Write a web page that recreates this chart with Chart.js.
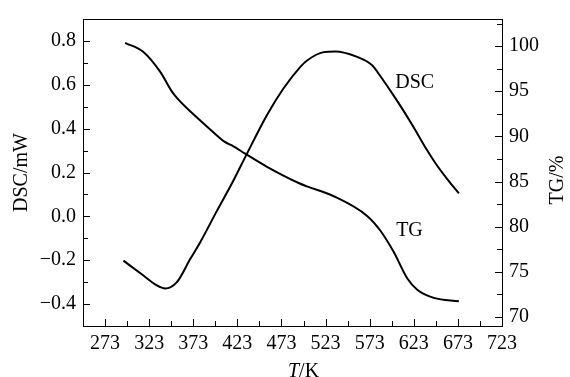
<!DOCTYPE html>
<html><head><meta charset="utf-8">
<script src="https://cdn.jsdelivr.net/npm/chart.js@4.4.1/dist/chart.umd.min.js"></script>
<style>html,body{margin:0;padding:0;background:#fff}#wrap{width:570px;height:377px}</style>
</head><body><div id="wrap"><canvas id="c" width="570" height="377"></canvas></div>
<script>
// ---- data ----
const dscT    = [293.8, 316.5, 331.7, 341.1, 354.4, 369.5, 380.9, 399.8, 418.7, 431.9, 456.6, 475.4, 494.4, 502.0, 520.8, 534.1, 558.8, 575.8, 585.0, 596.6, 610.0, 623.0, 636.0, 648.0, 660.9, 674.1];
const dscVals = [-0.202, -0.270, -0.315, -0.329, -0.300, -0.195, -0.118, 0.025, 0.165, 0.270, 0.462, 0.584, 0.682, 0.711, 0.749, 0.752, 0.727, 0.689, 0.640, 0.572, 0.490, 0.405, 0.315, 0.240, 0.170, 0.105];
const tgT     = [295.7, 316.5, 335.4, 348.7, 354.4, 373.2, 392.2, 409.2, 416.8, 431.9, 456.6, 494.4, 502.0, 532.2, 570.1, 585.2, 600.3, 615.5, 626.9, 645.7, 674.1];
const tgVals  = [100.36, 99.35, 97.17, 94.99, 94.26, 92.44, 90.77, 89.36, 89.0, 88.08, 86.63, 84.75, 84.46, 83.37, 81.19, 79.55, 77.19, 74.29, 73.02, 72.11, 71.74];
const xTickLabels   = [273, 323, 373, 423, 473, 523, 573, 623, 673, 723];
const xMinorTicks   = [298, 348, 398, 448, 498, 548, 598, 648, 698];
const dscTickLabels = [-0.4, -0.2, 0.0, 0.2, 0.4, 0.6, 0.8];
const dscMinorTicks = [-0.3, -0.1, 0.1, 0.3, 0.5, 0.7];
const tgTickLabels  = [70, 75, 80, 85, 90, 95, 100];
const tgMinorTicks  = [72.5, 77.5, 82.5, 87.5, 92.5, 97.5, 102.5];
const curveLabels = [
  {text: 'DSC', x: 602, y: 0.584, axis: 'y'},
  {text: 'TG',  x: 603, y: 79.0,  axis: 'y1'}
];
const xTitleCenter = 498;

const FONT = 'Liberation Serif, Times New Roman, serif';

const framePlugin = {
  id: 'frame',
  afterDraw(chart) {
    const {ctx, chartArea: a, scales} = chart;
    ctx.save();
    ctx.strokeStyle = '#000';
    ctx.lineWidth = 1;
    ctx.strokeRect(Math.round(a.left) + 0.5, Math.round(a.top) + 0.5, Math.round(a.right - a.left), Math.round(a.bottom - a.top));
    const tick = (x1, y1, x2, y2) => { ctx.beginPath(); ctx.moveTo(x1, y1); ctx.lineTo(x2, y2); ctx.stroke(); };
    const bx = v => Math.round(scales.x.getPixelForValue(v)) + 0.5;
    xTickLabels.forEach(v => tick(bx(v), a.bottom, bx(v), a.bottom - 7));
    xMinorTicks.forEach(v => tick(bx(v), a.bottom, bx(v), a.bottom - 5));
    const ly = v => Math.round(scales.y.getPixelForValue(v)) + 0.5;
    dscTickLabels.forEach(v => tick(a.left, ly(v), a.left + 7, ly(v)));
    dscMinorTicks.forEach(v => tick(a.left, ly(v), a.left + 5, ly(v)));
    const ry = v => Math.round(scales.y1.getPixelForValue(v)) + 0.5;
    tgTickLabels.forEach(v => tick(a.right, ry(v), a.right - 7, ry(v)));
    tgMinorTicks.forEach(v => tick(a.right, ry(v), a.right - 5, ry(v)));

    ctx.fillStyle = '#000';
    ctx.font = '20px ' + FONT;
    ctx.textBaseline = 'alphabetic';
    ctx.textAlign = 'left';
    curveLabels.forEach(l => {
      ctx.fillText(l.text, scales.x.getPixelForValue(l.x), scales[l.axis].getPixelForValue(l.y));
    });

    // x-axis title: italic T + "/K"
    const it = 'italic 20px ' + FONT, rm = '20px ' + FONT;
    ctx.font = it; const wT = ctx.measureText('T').width;
    ctx.font = rm; const wK = ctx.measureText('/K').width;
    const cx = scales.x.getPixelForValue(xTitleCenter);
    const x0 = cx - (wT + wK) / 2;
    ctx.font = it; ctx.fillText('T', x0, 377);
    ctx.font = rm; ctx.fillText('/K', x0 + wT, 377);

    // right axis title (reads bottom to top)
    ctx.save();
    ctx.translate(558, 180);
    ctx.rotate(-Math.PI / 2);
    ctx.textAlign = 'center';
    ctx.textBaseline = 'middle';
    ctx.font = rm;
    ctx.fillText('TG/%', 0, 0);
    ctx.restore();
    ctx.restore();
  }
};

const tickFont = {family: FONT, size: 20};
const minus = v => (v < 0 ? '\u2212' : '') + Math.abs(v).toFixed(1);

new Chart(document.getElementById('c'), {
  type: 'line',
  data: {
    datasets: [
      {label: 'DSC', data: dscT.map((t, i) => ({x: t, y: dscVals[i]})), yAxisID: 'y',
       borderColor: '#000', borderWidth: 2, pointRadius: 0, cubicInterpolationMode: 'monotone', fill: false},
      {label: 'TG', data: tgT.map((t, i) => ({x: t, y: tgVals[i]})), yAxisID: 'y1',
       borderColor: '#000', borderWidth: 2, pointRadius: 0, cubicInterpolationMode: 'monotone', fill: false}
    ]
  },
  options: {
    responsive: false, animation: false, devicePixelRatio: 1,
    layout: {padding: {top: 15, left: 0, right: 0, bottom: 0}},
    plugins: {legend: {display: false}, tooltip: {enabled: false}},
    scales: {
      x: {
        type: 'linear', position: 'bottom', min: 248, max: 723,
        afterBuildTicks: s => { s.ticks = xTickLabels.map(v => ({value: v})); },
        afterFit: s => { s.height = 51; },
        grid: {display: false, drawTicks: false}, border: {display: false},
        ticks: {font: tickFont, color: '#000', padding: 6, maxRotation: 0, autoSkip: false, callback: v => String(v)}
      },
      y: {
        type: 'linear', position: 'left', min: -0.5, max: 0.9,
        afterBuildTicks: s => { s.ticks = dscTickLabels.map(v => ({value: v})); },
        afterFit: s => { s.width = 83; },
        grid: {display: false, drawTicks: false}, border: {display: false},
        ticks: {font: tickFont, color: '#000', padding: 7, autoSkip: false, callback: v => minus(v)},
        title: {display: true, text: 'DSC/mW', color: '#000', font: {family: FONT, size: 20, lineHeight: 1.2}, padding: {top: 10, bottom: 0}}
      },
      y1: {
        type: 'linear', position: 'right', min: 69, max: 103,
        afterBuildTicks: s => { s.ticks = tgTickLabels.map(v => ({value: v})); },
        afterFit: s => { s.width = 68; },
        grid: {display: false, drawTicks: false}, border: {display: false},
        ticks: {font: tickFont, color: '#000', padding: 7, autoSkip: false, callback: v => String(v)}
      }
    }
  },
  plugins: [framePlugin]
});
</script>
</body></html>
